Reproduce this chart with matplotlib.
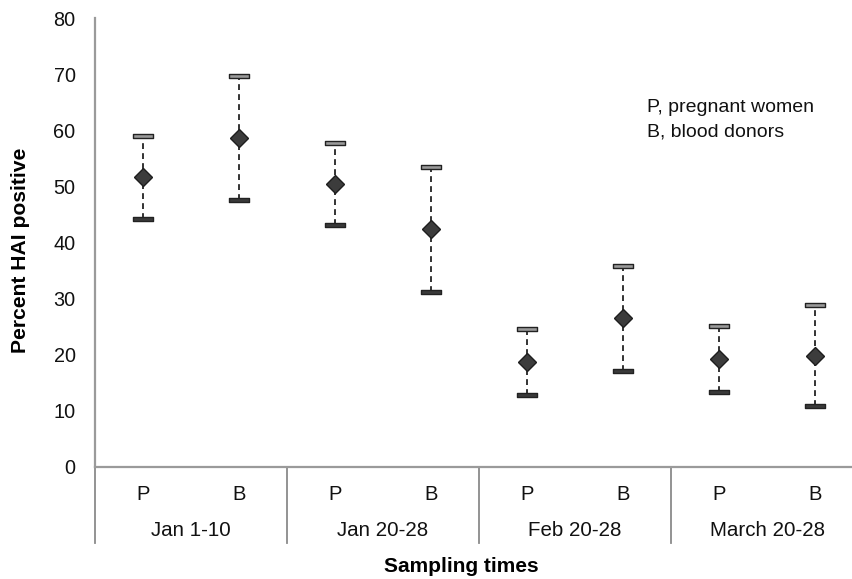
import matplotlib.pyplot as plt
import matplotlib.transforms as mtransforms
from matplotlib.path import Path

plt.rcParams['font.family'] = ['Liberation Sans', 'DejaVu Sans']

groups = ['Jan 1-10', 'Jan 20-28', 'Feb 20-28', 'March 20-28']
subgroups = ['P', 'B']
means = [51.6, 58.7, 50.5, 42.4, 18.7, 26.5, 19.3, 19.8]
upper = [59.0, 69.7, 57.8, 53.5, 24.5, 35.8, 25.1, 28.8]
lower = [44.2, 47.6, 43.1, 31.2, 12.8, 17.1, 13.4, 10.8]

W, H = 852, 579
fig = plt.figure(figsize=(W / 100, H / 100), dpi=100)
ax = fig.add_axes([95 / W, (H - 467) / H, 768 / W, 449 / H])

xs = list(range(len(means)))

# dashed error lines
for x, lo, hi in zip(xs, lower, upper):
    ax.plot([x, x], [lo, hi], color='#111111', lw=1.2, ls=(0, (3.5, 2.5)), zorder=2)

# flat rectangle caps
cap = Path([(-1, -0.22), (1, -0.22), (1, 0.22), (-1, 0.22), (-1, -0.22)],
           [Path.MOVETO, Path.LINETO, Path.LINETO, Path.LINETO, Path.CLOSEPOLY])
ax.plot(xs, upper, ls='none', marker=cap, ms=14, mfc='#9a9a9a', mec='#222222', mew=1.0, zorder=3)
ax.plot(xs, lower, ls='none', marker=cap, ms=14, mfc='#3a3a3a', mec='#222222', mew=1.0, zorder=3)

# diamond means
ax.plot(xs, means, ls='none', marker='D', ms=9, mfc='#3c3c3c', mec='#1e1e1e', mew=1.0, zorder=4)

ax.set_xlim(-0.5, 7.5)
ax.set_ylim(0, 80)
ax.set_yticks(range(0, 81, 10))
ax.tick_params(axis='y', length=0, pad=14, labelsize=14.3, labelcolor='#111111')
ax.set_xticks([])

for s in ['top', 'right']:
    ax.spines[s].set_visible(False)
ax.spines['left'].set_color('#9a9a9a')
ax.spines['left'].set_linewidth(1.6)
ax.spines['bottom'].set_color('#9a9a9a')
ax.spines['bottom'].set_linewidth(1.6)

# two-level category axis
trans = mtransforms.blended_transform_factory(ax.transData, ax.transAxes)
px = 1 / 449
for b in [-0.5, 1.5, 3.5, 5.5, 7.5]:
    ax.plot([b, b], [0, -76 * px], color='#8a8a8a', lw=1.3, transform=trans, clip_on=False)

for i, x in enumerate(xs):
    ax.text(x, -27 * px, subgroups[i % 2], transform=trans, ha='center', va='center',
            fontsize=14.5, color='#111111')
for g, name in enumerate(groups):
    ax.text(2 * g + 0.5, -64 * px, name, transform=trans, ha='center', va='center',
            fontsize=14.8, color='#111111')

fig.text(461 / W, 1 - 566 / H, 'Sampling times', ha='center', va='center',
         fontsize=15, fontweight='bold')
fig.text(21 / W, 1 - 250 / H, 'Percent HAI positive', ha='center', va='center',
         rotation=90, fontsize=15.2, fontweight='bold')

fig.text(647 / W, 1 - 107 / H, 'P, pregnant women', ha='left', va='center', fontsize=14, color='#111111')
fig.text(647 / W, 1 - 132 / H, 'B, blood donors', ha='left', va='center', fontsize=14, color='#111111')

fig.savefig('out.png', dpi=100)
